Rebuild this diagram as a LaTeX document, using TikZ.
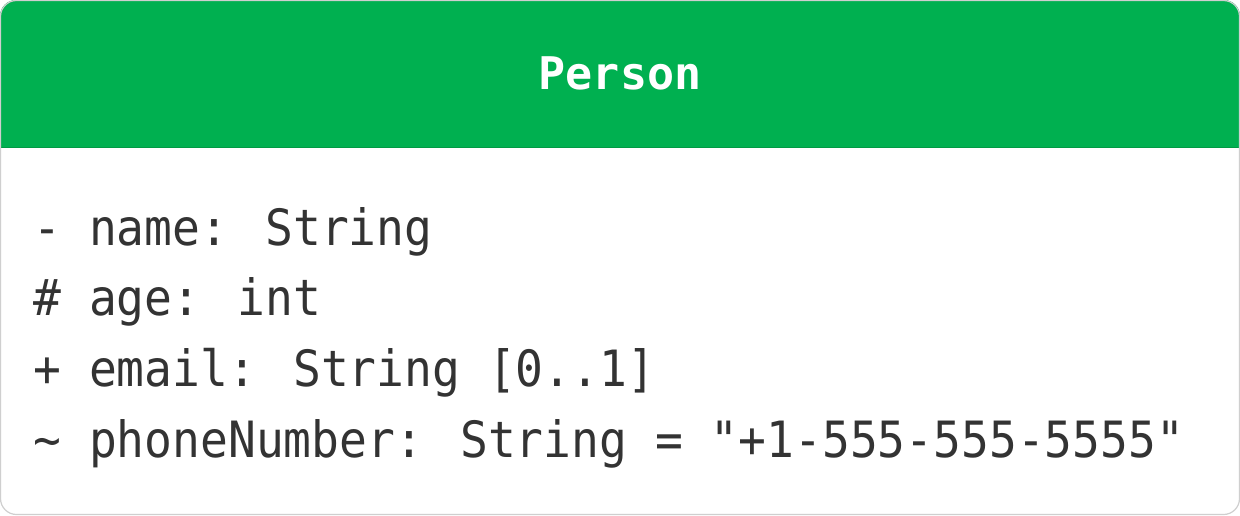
\documentclass[tikz,border=0pt]{standalone}
\usepackage{fontspec}
\usepackage{tikz}
\newfontfamily\codefont[FakeStretch=0.925]{DejaVu Sans Mono}
\newfontfamily\titlefont{DejaVu Sans Mono}
\definecolor{headgreen}{HTML}{00B050}
\definecolor{headline}{HTML}{009A44}
\definecolor{textgray}{HTML}{333333}
\definecolor{boxgray}{HTML}{CFCFCF}

\begin{document}
\begin{tikzpicture}
            [x=0.5pt,y=-0.5pt,every node/.style={inner sep=0pt,anchor=base west,text=textgray,font=\codefont\fontsize{25pt}{30pt}\selectfont}]
            \useasboundingbox (0,0) rectangle (1240,515);
            % the class box
            \fill[white,rounded corners=8pt] (0,0) rectangle (1240,515);
            \begin{scope}
              \clip[rounded corners=8pt] (0,0) rectangle (1240,515);
              \fill[headgreen] (0,0) rectangle (1240,148);
            \end{scope}
            \draw[headline,line width=0.6pt] (0,147.5) -- (1240,147.5);
            \draw[boxgray,line width=0.6pt,rounded corners=8pt] (0.5,0.5) rectangle (1239.5,514.5);
            % the class name
            \node[anchor=base,text=white,font=\titlefont\bfseries\fontsize{22.5pt}{27pt}\selectfont] (title) at (620,89) {Person};
            % the attributes
            \node (name) at (33,245) {- name: String};
            \node (age) at (33,315) {\# age: int};
            \node (email) at (33,386) {+ email: String [0..1]};
            \node (phone) at (33,457) {\textasciitilde{} phoneNumber: String = "+1-555-555-5555"};
        \end{tikzpicture}
\end{document}
